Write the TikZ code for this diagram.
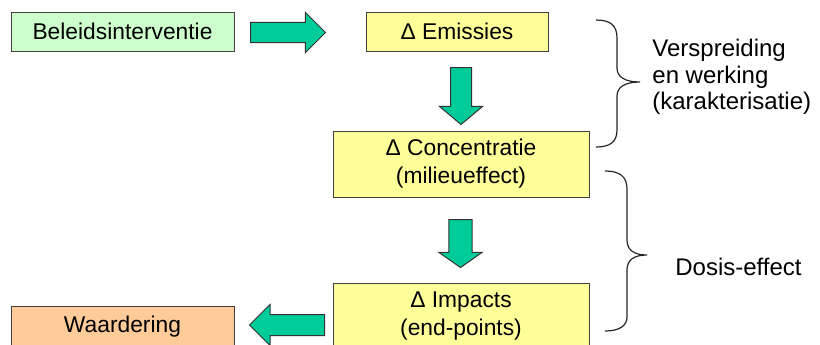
\documentclass[tikz,border=0pt]{standalone}
\usepackage{fontspec}
\setmainfont{Liberation Sans}
\usetikzlibrary{shapes.arrows}

\definecolor{policygreen}{HTML}{CCFFCC}
\definecolor{deltayellow}{HTML}{FFFF99}
\definecolor{valueorange}{HTML}{FFCC99}
\definecolor{arrowteal}{HTML}{00CC99}

\begin{document}
\begin{tikzpicture}[x=0.5pt,y=-0.5pt,
  box node/.style={rectangle,draw=black!75,line width=0.5pt,inner sep=0pt,align=center,font=\fontsize{11.4}{14}\selectfont},
  green node/.style={box node,fill=policygreen,minimum width=111.5pt,minimum height=19.5pt},
  yellow node/.style={box node,fill=deltayellow},
  orange node/.style={box node,fill=valueorange,minimum width=111.5pt,minimum height=21pt},
  flow arrow/.style={single arrow,draw=black!80,fill=arrowteal,line width=0.5pt,inner xsep=0pt,inner ysep=5pt,single arrow head indent=0pt,single arrow head extend=5pt,anchor=tail},
  brace line/.style={draw=black!85,line width=0.6pt},
  side text/.style={align=left,inner sep=0pt,anchor=west,font=\fontsize{12}{13.3}\selectfont}]

  \useasboundingbox (0,0) rectangle (820,344);
  \clip (0,0) rectangle (820,344);

  \node[green node] (belei) at (122.5,31.5) {Beleidsinterventie};
  \node[yellow node,minimum width=91pt,minimum height=19.5pt] (emis) at (457,31.5) {Δ Emissies};
  \node[yellow node,minimum width=128pt,minimum height=33pt] (conc) at (461,164) {Δ Concentratie\\(milieueffect)};
  \node[yellow node,minimum width=128pt,minimum height=33pt] (imp) at (461,316) {Δ Impacts\\(end-points)};
  \node[orange node] (waard) at (122.5,327) {Waardering};

  \node[flow arrow,minimum height=37.5pt,inner ysep=4.8pt] (belei-emis) at (250,32.5) {};
  \node[flow arrow,rotate=-90,minimum height=28.5pt,single arrow head extend=5.5pt,single arrow tip angle=100] (emis-conc) at (461,67) {};
  \node[flow arrow,rotate=-90,minimum height=24pt,inner ysep=5.6pt,single arrow tip angle=110] (conc-imp) at (460.5,219) {};
  \node[flow arrow,rotate=180,minimum height=37.5pt] (imp-waard) at (325,325) {};

  \draw[brace line] (596,20) .. controls (610,20) and (617,25) .. (617,38) -- (617,68)
    .. controls (617,77) and (625,82) .. (640,82) .. controls (625,82) and (617,87) .. (617,96)
    -- (617,130) .. controls (617,142) and (610,147) .. (596,147);
  \draw[brace line] (605,171) .. controls (619,171) and (627,176) .. (627,189) -- (627,240)
    .. controls (627,250) and (634,255) .. (647,255) .. controls (634,255) and (627,260) .. (627,270)
    -- (627,317) .. controls (627,326) and (619,331) .. (605,331);

  \node[side text] (spread) at (652,77) {Verspreiding\\en werking\\(karakterisatie)};
  \node[side text] (dose) at (675,267) {Dosis-effect};

\end{tikzpicture}
\end{document}
